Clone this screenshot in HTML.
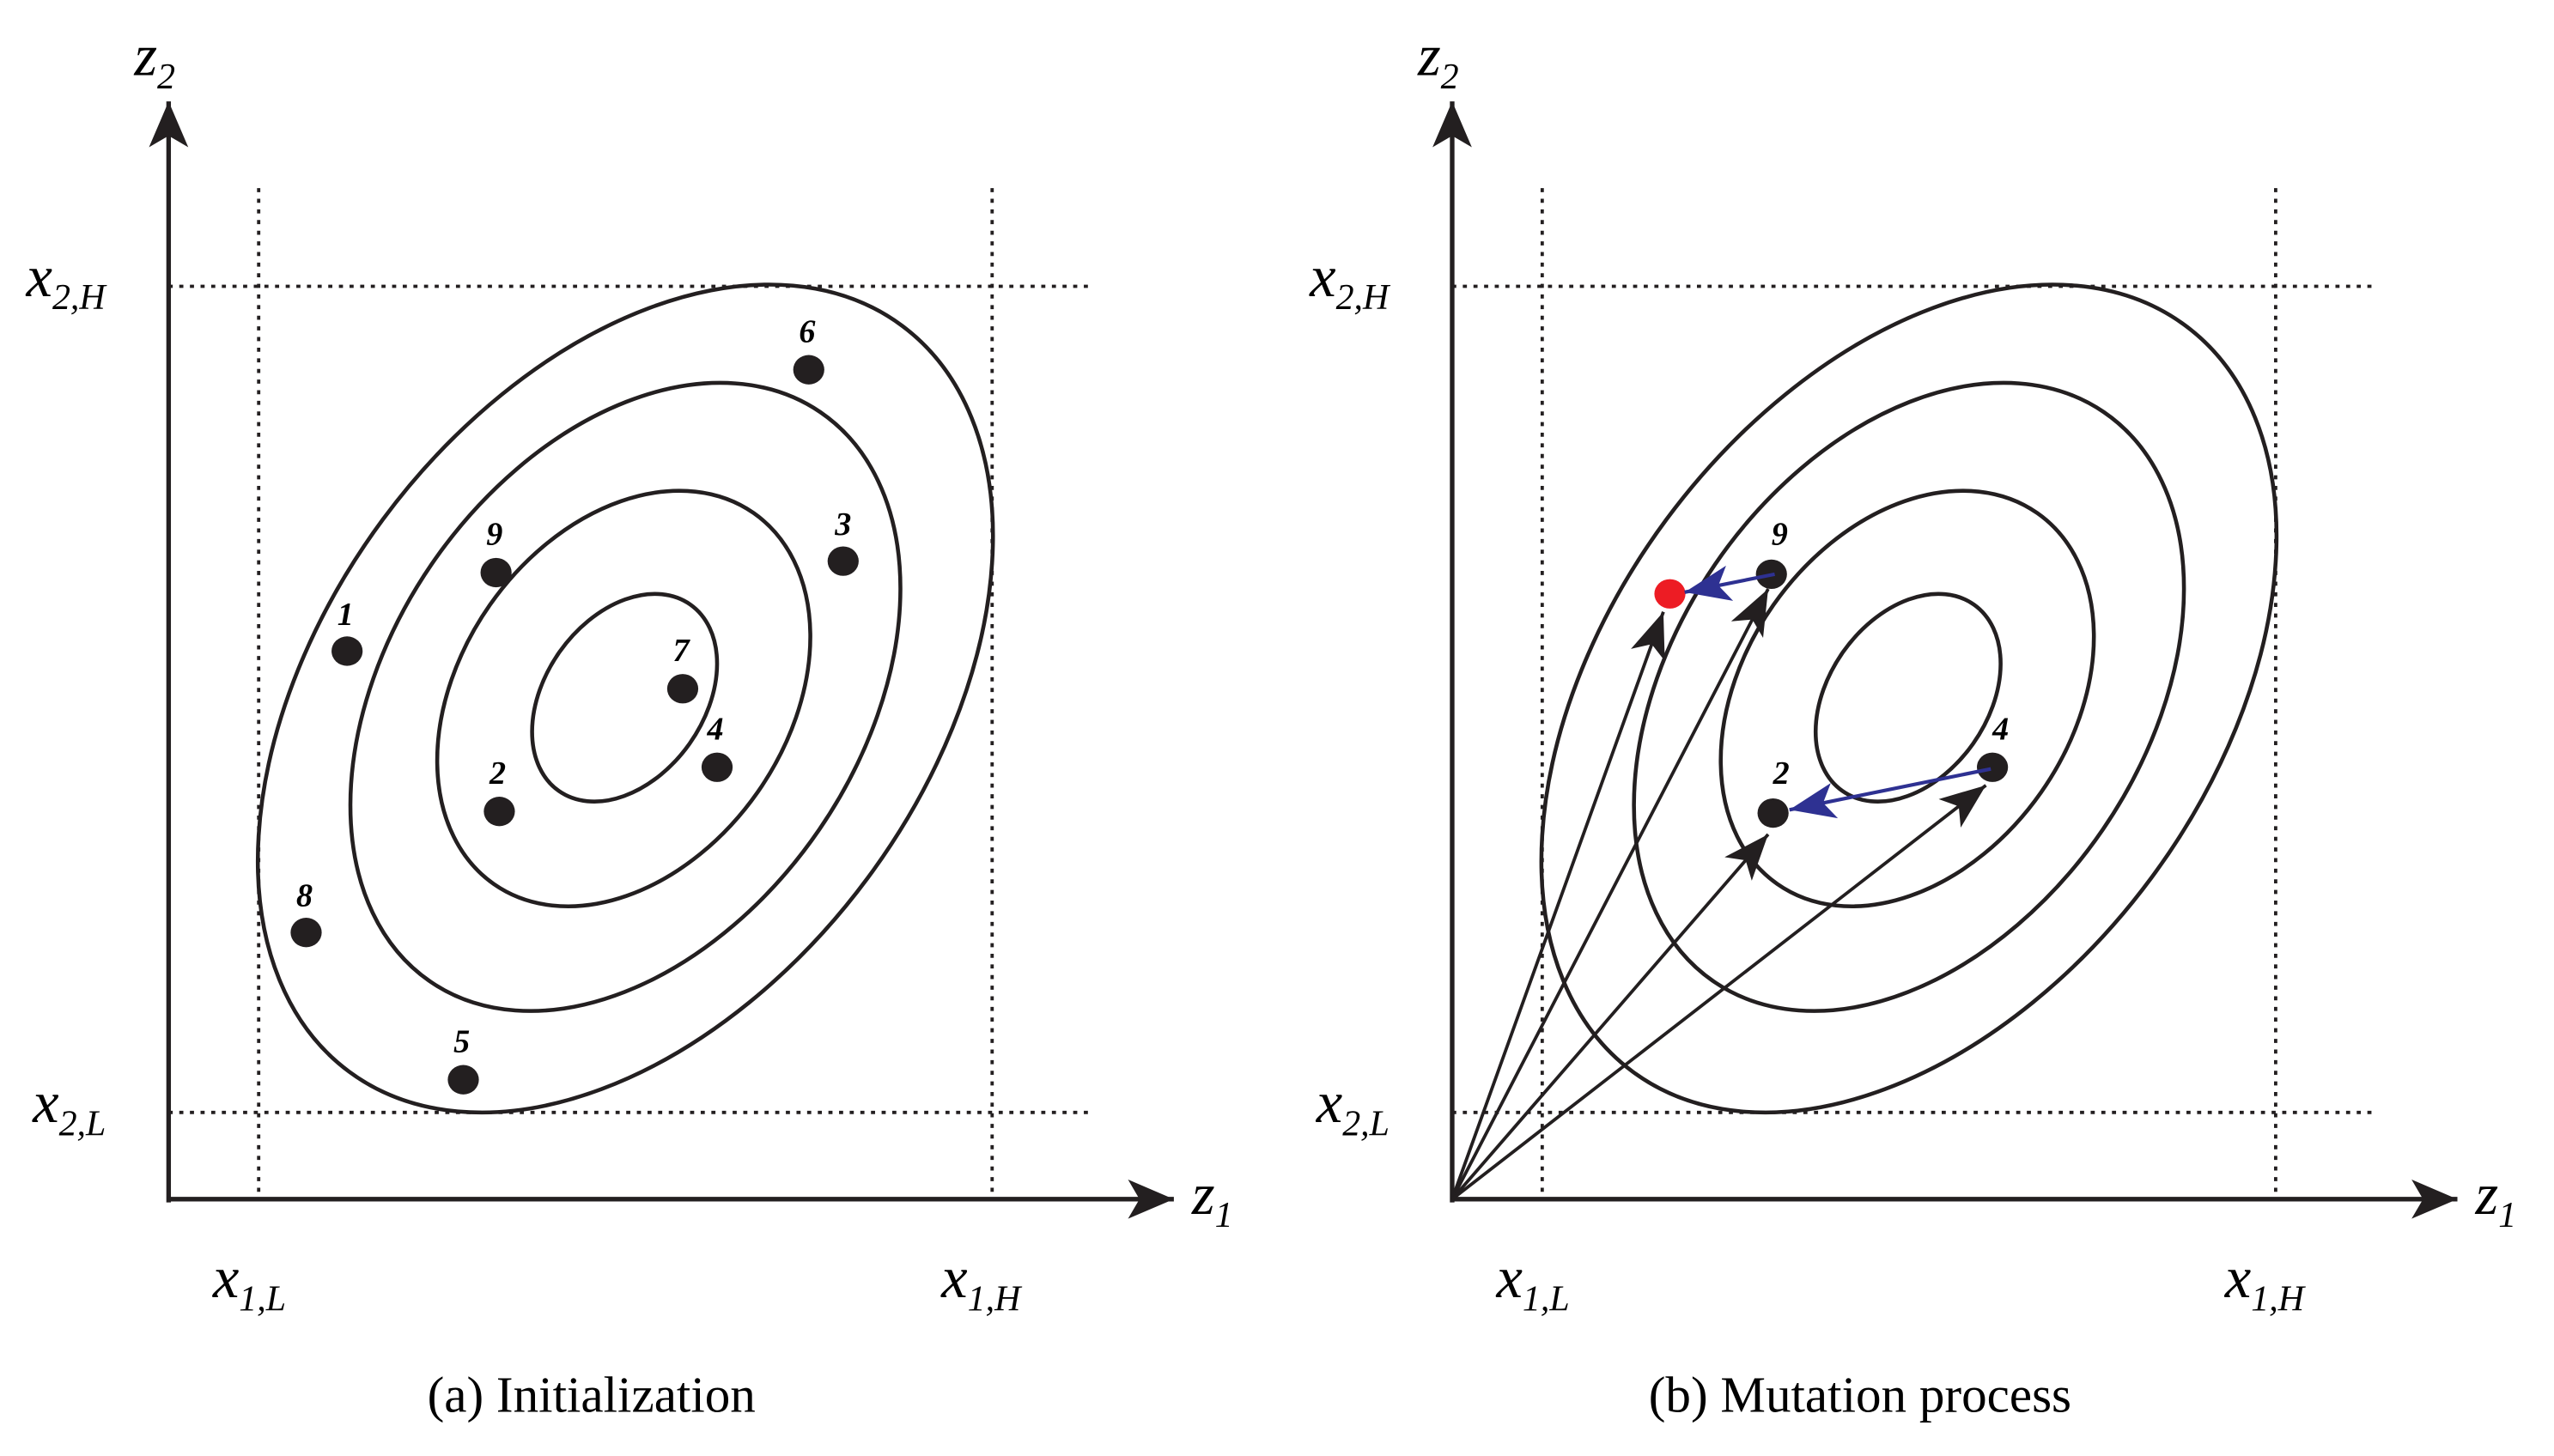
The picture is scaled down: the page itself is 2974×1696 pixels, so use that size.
<!DOCTYPE html>
<html><head><meta charset="utf-8"><style>
html,body{margin:0;padding:0;background:#fff}
svg{display:block}
</style></head><body>
<svg width="2974" height="1696" viewBox="0 0 1560 890" preserveAspectRatio="none" xmlns="http://www.w3.org/2000/svg" font-family="Liberation Serif, serif">
<defs>
<marker id="ah" markerUnits="userSpaceOnUse" markerWidth="40" markerHeight="40" refX="28" refY="12" orient="auto">
<path d="M28,12 L0,0 L7,12 L0,24 Z" fill="#231f20"/></marker>
<marker id="bk" markerUnits="userSpaceOnUse" markerWidth="40" markerHeight="40" refX="28" refY="11" orient="auto">
<path d="M28,11 L0,0 L7,11 L0,22 Z" fill="#231f20"/></marker>
<marker id="bl" markerUnits="userSpaceOnUse" markerWidth="40" markerHeight="40" refX="28" refY="11" orient="auto">
<path d="M28,11 L0,0 L7,11 L0,22 Z" fill="#2e3192"/></marker>
<g id="panel">
<g stroke="#231f20" stroke-width="2" stroke-dasharray="2.5,4" fill="none">
<line x1="158" y1="115" x2="158" y2="733"/>
<line x1="606" y1="115" x2="606" y2="733"/>
<line x1="103" y1="175" x2="665" y2="175"/>
<line x1="103" y1="680" x2="665" y2="680"/>
</g>
<g stroke="#231f20" stroke-width="2.4" fill="none">
<ellipse cx="382" cy="427" rx="283.7" ry="184.2" transform="rotate(-53.5 382 427)"/>
<ellipse cx="382" cy="426" rx="210.9" ry="143.5" transform="rotate(-55.6 382 426)"/>
<ellipse cx="381" cy="427" rx="138.4" ry="99.8" transform="rotate(-55 381 427)"/>
<ellipse cx="381.5" cy="426.5" rx="69.7" ry="48.6" transform="rotate(-54.8 381.5 426.5)"/>
</g>
<g stroke="#231f20" stroke-width="2.8" fill="none">
<line x1="103" y1="735" x2="103" y2="62" marker-end="url(#ah)"/>
<line x1="102" y1="733" x2="717" y2="733" marker-end="url(#ah)"/>
</g>
<g font-family="Liberation Serif, serif" font-style="italic" font-size="36" fill="#000">
<text x="82" y="46">z<tspan font-size="22" dy="8">2</tspan></text>
<text x="728" y="742">z<tspan font-size="22" dy="8">1</tspan></text>
<text x="16" y="181">x<tspan font-size="22" dy="8">2,H</tspan></text>
<text x="20" y="686">x<tspan font-size="22" dy="8">2,L</tspan></text>
<text x="130" y="793">x<tspan font-size="22" dy="8">1,L</tspan></text>
<text x="575" y="793">x<tspan font-size="22" dy="8">1,H</tspan></text>
</g>
</g>
</defs>
<use href="#panel"/>
<use href="#panel" transform="translate(784 0)"/>
<g font-family="Liberation Serif, serif" font-size="31" fill="#000">
<text x="261" y="863">(a)  Initialization</text>
<text x="1007" y="863">(b)  Mutation process</text>
</g>
<g fill="#231f20">
<ellipse cx="494" cy="226" rx="9.5" ry="9"/>
<ellipse cx="515" cy="343" rx="9.5" ry="9"/>
<ellipse cx="303" cy="350" rx="9.5" ry="9"/>
<ellipse cx="212" cy="398" rx="9.5" ry="9"/>
<ellipse cx="417" cy="421" rx="9.5" ry="9"/>
<ellipse cx="438" cy="469" rx="9.5" ry="9"/>
<ellipse cx="305" cy="496" rx="9.5" ry="9"/>
<ellipse cx="187" cy="570" rx="9.5" ry="9"/>
<ellipse cx="283" cy="660" rx="9.5" ry="9"/>
</g>
<g font-family="Liberation Serif, serif" font-style="italic" font-weight="bold" font-size="20" fill="#000">
<text x="488" y="209">6</text>
<text x="510" y="327">3</text>
<text x="297" y="333">9</text>
<text x="206" y="382">1</text>
<text x="411" y="404">7</text>
<text x="432" y="452">4</text>
<text x="299" y="479">2</text>
<text x="181" y="554">8</text>
<text x="277" y="643">5</text>
<text x="1082" y="333">9</text>
<text x="1083" y="479">2</text>
<text x="1217" y="452">4</text>
</g>
<g stroke="#231f20" stroke-width="2" fill="none">
<line x1="887" y1="733" x2="1016" y2="374" marker-end="url(#bk)"/>
<line x1="887" y1="733" x2="1080" y2="360" marker-end="url(#bk)"/>
<line x1="887" y1="733" x2="1080" y2="510" marker-end="url(#bk)"/>
<line x1="887" y1="733" x2="1213" y2="480" marker-end="url(#bk)"/>
</g>
<g fill="#231f20">
<ellipse cx="1082" cy="351" rx="9.5" ry="9"/>
<ellipse cx="1083" cy="497" rx="9.5" ry="9"/>
<ellipse cx="1217" cy="469" rx="9.5" ry="9"/>
</g>
<ellipse cx="1020" cy="363" rx="9.5" ry="9" fill="#ed1c24"/>
<g stroke="#2e3192" stroke-width="2.2" fill="none">
<line x1="1084" y1="351" x2="1029" y2="362" marker-end="url(#bl)"/>
<line x1="1216" y1="470" x2="1093" y2="495" marker-end="url(#bl)"/>
</g>
</svg>
</body></html>
